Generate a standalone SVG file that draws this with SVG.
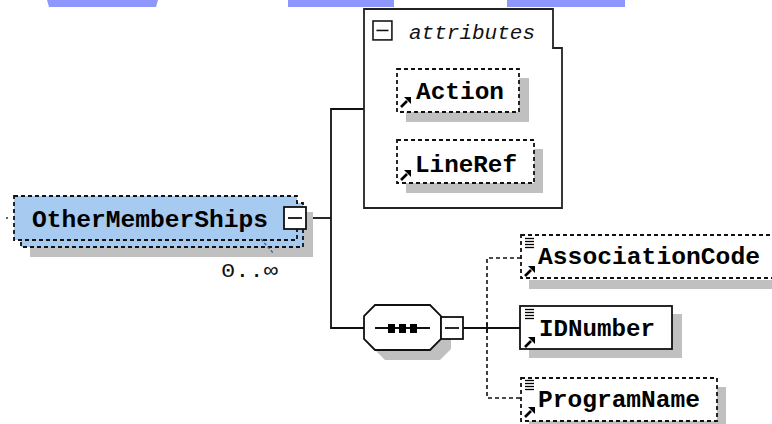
<svg xmlns="http://www.w3.org/2000/svg" width="772" height="424" viewBox="0 0 772 424">
  <style>
    .bar { fill: #8e98fc; }
    .shadow { fill: #c0c0c0; }
    .dash { fill: #ffffff; stroke: #111; stroke-width: 1.8; stroke-dasharray: 4 3; }
    .dashblue { fill: #a6caf0; stroke: #111; stroke-width: 1.8; stroke-dasharray: 4 3; }
    .solid { fill: #ffffff; stroke: #111; stroke-width: 1.8; }
    .frame { fill: #ffffff; stroke: #222; stroke-width: 1.8; }
    .wire { fill: none; stroke: #111; stroke-width: 1.8; }
    .wiredash { fill: none; stroke: #111; stroke-width: 1.6; stroke-dasharray: 4 3; }
    .name { font-family: "Liberation Mono", "DejaVu Sans Mono", monospace; font-weight: bold; font-size: 24px; fill: #000; }
    .label { font-family: "Liberation Mono", "DejaVu Sans Mono", monospace; font-style: italic; font-size: 20px; fill: #111; }
    .card { font-family: "Liberation Mono", "DejaVu Sans Mono", monospace; font-size: 21px; fill: #111; }
  </style>
  <defs>
    <!-- reference arrow shown at the lower-left corner of each item -->
    <g id="refArrow">
      <path d="M1,10 L7,4" fill="none" stroke="#000" stroke-width="2.6"/>
      <polygon points="4,0 11,0 11,7" fill="#000"/>
    </g>
    <!-- content lines shown at the upper-left corner of child elements -->
    <g id="contentLines" stroke="#000" stroke-width="1.3">
      <line x1="0" y1="0.5" x2="9" y2="0.5"/>
      <line x1="0" y1="3.5" x2="9" y2="3.5"/>
      <line x1="0" y1="6.5" x2="9" y2="6.5"/>
      <line x1="0" y1="9.5" x2="9" y2="9.5"/>
    </g>
    <!-- collapse/expand toggle -->
    <g id="minusBox">
      <rect x="0" y="0" width="22" height="22" fill="#fff" stroke="#111" stroke-width="1.8"/>
      <line x1="4" y1="11" x2="18" y2="11" stroke="#111" stroke-width="1.8"/>
    </g>
  </defs>

  <!-- top tab strips -->
  <polygon class="bar" points="47,0 158,0 156,7 49,7"/>
  <rect class="bar" x="288" y="0" width="106" height="7"/>
  <rect class="bar" x="507" y="0" width="118" height="7"/>

  <!-- connectors -->
  <g id="connectors">
    <circle cx="7" cy="218" r="1" fill="#333"/>
    <polyline class="wire" points="306,218 331,218"/>
    <polyline class="wire" points="364,109 331,109 331,328 364,328"/>
    <polyline class="wire" points="463,328 520,328"/>
    <polyline class="wiredash" points="521,258 487,258 487,398 521,398"/>
    <line x1="487" y1="323" x2="487" y2="333" stroke="#111" stroke-width="1.8"/>
  </g>

  <!-- attributes group -->
  <g id="attributes">
    <polygon class="frame" points="364,9 553,9 553,48 562,48 562,208 364,208"/>
    <use href="#minusBox" transform="translate(373,21) scale(0.86)"/>
    <text class="label" x="409" y="39" textLength="126" lengthAdjust="spacingAndGlyphs">attributes</text>
  </g>

  <g id="Action">
    <rect class="shadow" x="406" y="78" width="123" height="44"/>
    <rect class="dash" x="397" y="69" width="122" height="43"/>
    <use href="#refArrow" x="400" y="97"/>
    <text class="name" x="416" y="99" textLength="88" lengthAdjust="spacingAndGlyphs">Action</text>
  </g>

  <g id="LineRef">
    <rect class="shadow" x="406" y="149" width="137" height="44"/>
    <rect class="dash" x="397" y="140" width="137" height="43"/>
    <use href="#refArrow" x="400" y="170"/>
    <text class="name" x="415" y="172" textLength="102" lengthAdjust="spacingAndGlyphs">LineRef</text>
  </g>

  <!-- root element with repeat marker -->
  <g id="OtherMemberShips">
    <rect class="shadow" x="30" y="212" width="283" height="45"/>
    <rect class="dashblue" x="21" y="203" width="282" height="44"/>
    <rect class="dashblue" x="14" y="196" width="283" height="44"/>
    <text class="name" x="32" y="227" textLength="236" lengthAdjust="spacingAndGlyphs">OtherMemberShips</text>
    <use href="#minusBox" x="284" y="207"/>
    <line x1="261" y1="239" x2="274" y2="254" stroke="#3a5a8a" stroke-width="1.2" stroke-dasharray="3 2"/>
    <text class="card" x="221" y="277" textLength="57" lengthAdjust="spacingAndGlyphs">0..∞</text>
  </g>

  <!-- sequence compositor -->
  <g id="sequence">
    <polygon class="shadow" points="385,315 440,315 451,326 451,349 440,360 385,360 374,349 374,326"/>
    <polygon class="solid" points="375,305 430,305 441,316 441,339 430,350 375,350 364,339 364,316"/>
    <line x1="375" y1="328" x2="430" y2="328" stroke="#111" stroke-width="1.8"/>
    <rect x="388" y="324" width="7" height="9" fill="#000"/>
    <rect x="399" y="324" width="7" height="9" fill="#000"/>
    <rect x="410" y="324" width="7" height="9" fill="#000"/>
    <use href="#minusBox" x="441" y="317"/>
  </g>

  <g id="AssociationCode">
    <rect class="shadow" x="529" y="280" width="260" height="9"/>
    <rect class="dash" x="521" y="235" width="270" height="43"/>
    <use href="#contentLines" x="525" y="238"/>
    <use href="#refArrow" x="524" y="266"/>
    <text class="name" x="538" y="264" textLength="222" lengthAdjust="spacingAndGlyphs">AssociationCode</text>
  </g>

  <g id="IDNumber">
    <rect class="shadow" x="529" y="314" width="153" height="44"/>
    <rect class="solid" x="520" y="306" width="152" height="43"/>
    <use href="#contentLines" x="525" y="309"/>
    <use href="#refArrow" x="524" y="337"/>
    <text class="name" x="539" y="336" textLength="116" lengthAdjust="spacingAndGlyphs">IDNumber</text>
  </g>

  <g id="ProgramName">
    <rect class="shadow" x="529" y="387" width="197" height="44"/>
    <rect class="dash" x="521" y="378" width="196" height="43"/>
    <use href="#contentLines" x="525" y="380"/>
    <use href="#refArrow" x="524" y="407"/>
    <text class="name" x="538" y="407" textLength="162" lengthAdjust="spacingAndGlyphs">ProgramName</text>
  </g>
</svg>
